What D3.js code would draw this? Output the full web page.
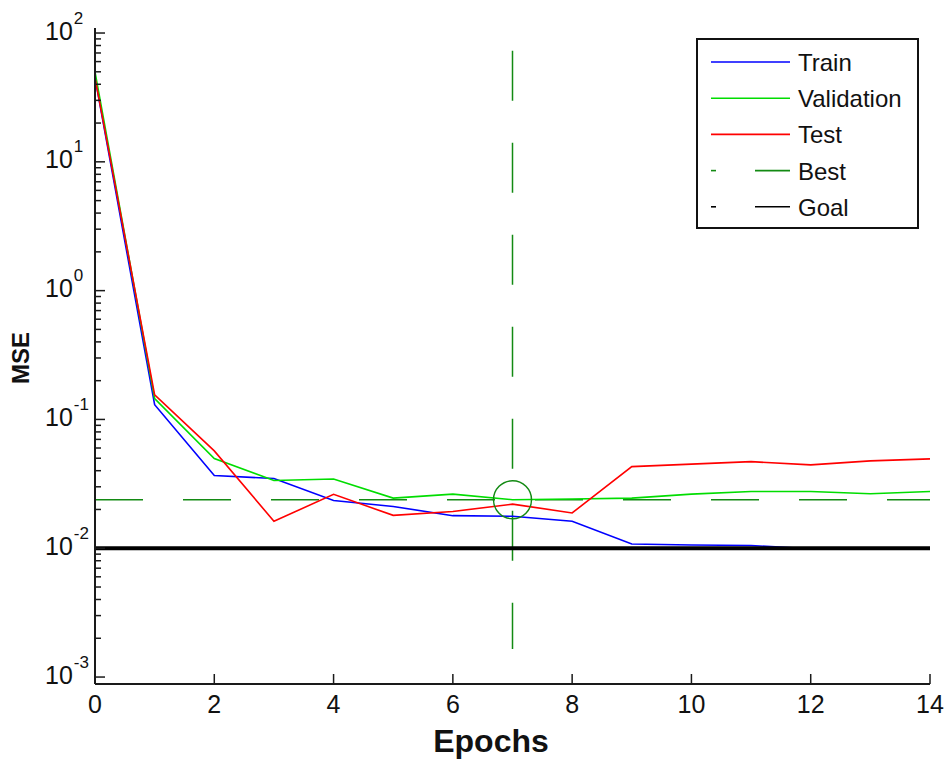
<!DOCTYPE html>
<html>
<head>
<meta charset="utf-8">
<script src="https://cdn.jsdelivr.net/npm/d3@7/dist/d3.min.js"></script>
<style>
  body { margin: 0; background: #fff; }
  text { font-family: "Liberation Sans", Arial, sans-serif; fill: #111; }
</style>
</head>
<body>
<svg id="chart"></svg>
<script>
// performance data
var epochs = [0, 1, 2, 3, 4, 5, 6, 7, 8, 9, 10, 11, 12, 13, 14];
var train = [45, 0.13, 0.0367, 0.0348, 0.0235, 0.0211, 0.0179, 0.0177, 0.0162, 0.0108, 0.0106, 0.0105, 0.0099, 0.0099, 0.0099];
var validation = [50, 0.145, 0.0497, 0.0336, 0.0345, 0.0245, 0.0263, 0.0238, 0.0241, 0.0245, 0.0263, 0.0276, 0.0276, 0.0265, 0.0276];
var test = [45, 0.155, 0.057, 0.0162, 0.0262, 0.018, 0.0193, 0.022, 0.0188, 0.0430, 0.0450, 0.0470, 0.0444, 0.0477, 0.0494];
var bestEpoch = 7;
var bestPerf = 0.0238;
var bestSpan = [73, 0.00165];
var goal = 0.01;
var xTicks = [0, 2, 4, 6, 8, 10, 12, 14];
var yDecades = [-3, -2, -1, 0, 1, 2];

var width = 947, height = 760;
var plotLeft = 95, plotRight = 930, plotTop = 28, plotBottom = 684;

var svg = d3.select("#chart")
  .attr("width", width)
  .attr("height", height);

svg.append("rect").attr("width", width).attr("height", height).attr("fill", "#fff");

var x = d3.scaleLinear().domain([0, 14]).range([plotLeft, plotRight]);
var y = d3.scaleLog().domain([Math.pow(10, -3.054), Math.pow(10, 2.039)]).range([plotBottom, plotTop]);

var line = d3.line()
  .x(function(d, i) { return x(epochs[i]); })
  .y(function(d) { return y(d); });

// best lines
svg.append("line")
  .attr("x1", x(0)).attr("x2", x(14))
  .attr("y1", y(bestPerf)).attr("y2", y(bestPerf))
  .attr("stroke", "#138a13").attr("stroke-width", 1.5)
  .attr("stroke-dasharray", "48,40");

svg.append("line")
  .attr("x1", x(bestEpoch)).attr("x2", x(bestEpoch))
  .attr("y1", y(bestSpan[0])).attr("y2", y(bestSpan[1]))
  .attr("stroke", "#138a13").attr("stroke-width", 1.5)
  .attr("stroke-dasharray", "50,42");

// series
var series = [
  { name: "Train", values: train, color: "#0000ff" },
  { name: "Validation", values: validation, color: "#00dd00" },
  { name: "Test", values: test, color: "#ff0000" }
];

series.forEach(function(s) {
  svg.append("path")
    .attr("d", line(s.values))
    .attr("fill", "none")
    .attr("stroke", s.color)
    .attr("stroke-width", 1.6);
});

// goal line, on top of the train tail
svg.append("line")
  .attr("x1", x(0)).attr("x2", x(14))
  .attr("y1", y(goal)).attr("y2", y(goal))
  .attr("stroke", "#000").attr("stroke-width", 4);

// best circle
svg.append("circle")
  .attr("cx", x(bestEpoch)).attr("cy", y(bestPerf))
  .attr("r", 19)
  .attr("fill", "none")
  .attr("stroke", "#138a13").attr("stroke-width", 1.5);

// axes
var axisColor = "#1a1a1a";
svg.append("line")
  .attr("x1", plotLeft).attr("x2", plotLeft).attr("y1", plotTop).attr("y2", plotBottom)
  .attr("stroke", axisColor).attr("stroke-width", 2);
svg.append("line")
  .attr("x1", plotLeft).attr("x2", plotRight).attr("y1", plotBottom).attr("y2", plotBottom)
  .attr("stroke", axisColor).attr("stroke-width", 2);

// x ticks
xTicks.forEach(function(t) {
  svg.append("line")
    .attr("x1", x(t)).attr("x2", x(t))
    .attr("y1", plotBottom).attr("y2", plotBottom - 10)
    .attr("stroke", axisColor).attr("stroke-width", 1.5);
  svg.append("text")
    .attr("x", x(t)).attr("y", 713)
    .attr("text-anchor", "middle")
    .style("font-size", "25px")
    .text(t);
});

// y ticks, majors and minors
yDecades.forEach(function(p) {
  for (var m = 1; m <= 9; m++) {
    var v = m * Math.pow(10, p);
    if (v < 0.001 || v > 100) continue;
    svg.append("line")
      .attr("x1", plotLeft).attr("x2", plotLeft + (m === 1 ? 10 : 6))
      .attr("y1", y(v)).attr("y2", y(v))
      .attr("stroke", axisColor).attr("stroke-width", 1.5);
  }
  var lbl = svg.append("text")
    .attr("x", 45).attr("y", y(Math.pow(10, p)) + 6.5)
    .style("font-size", "25px");
  lbl.append("tspan").text("10");
  lbl.append("tspan")
    .attr("dy", -16).attr("dx", 1)
    .style("font-size", "17px")
    .text(p);
});

// axis titles
svg.append("text")
  .attr("x", 491).attr("y", 752)
  .attr("text-anchor", "middle")
  .style("font-size", "32px").style("font-weight", "bold")
  .text("Epochs");

svg.append("text")
  .attr("transform", "translate(29,358) rotate(-90)")
  .attr("text-anchor", "middle")
  .style("font-size", "24px").style("font-weight", "bold")
  .text("MSE");

// legend
var legendItems = [
  { name: "Train", color: "#0000ff", split: false },
  { name: "Validation", color: "#00dd00", split: false },
  { name: "Test", color: "#ff0000", split: false },
  { name: "Best", color: "#138a13", split: true },
  { name: "Goal", color: "#000", split: true }
];

svg.append("rect")
  .attr("x", 697).attr("y", 39)
  .attr("width", 221).attr("height", 189)
  .attr("fill", "#fff")
  .attr("stroke", "#111").attr("stroke-width", 2);

legendItems.forEach(function(d, i) {
  var ly = 62 + i * 36.2;
  if (d.split) {
    svg.append("line").attr("x1", 711).attr("x2", 716).attr("y1", ly).attr("y2", ly)
      .attr("stroke", d.color).attr("stroke-width", 1.6);
    svg.append("line").attr("x1", 755).attr("x2", 790).attr("y1", ly).attr("y2", ly)
      .attr("stroke", d.color).attr("stroke-width", 1.6);
  } else {
    svg.append("line").attr("x1", 711).attr("x2", 790).attr("y1", ly).attr("y2", ly)
      .attr("stroke", d.color).attr("stroke-width", 1.6);
  }
  svg.append("text")
    .attr("x", 798).attr("y", ly + 9)
    .style("font-size", "24px")
    .text(d.name);
});
</script>
</body>
</html>
